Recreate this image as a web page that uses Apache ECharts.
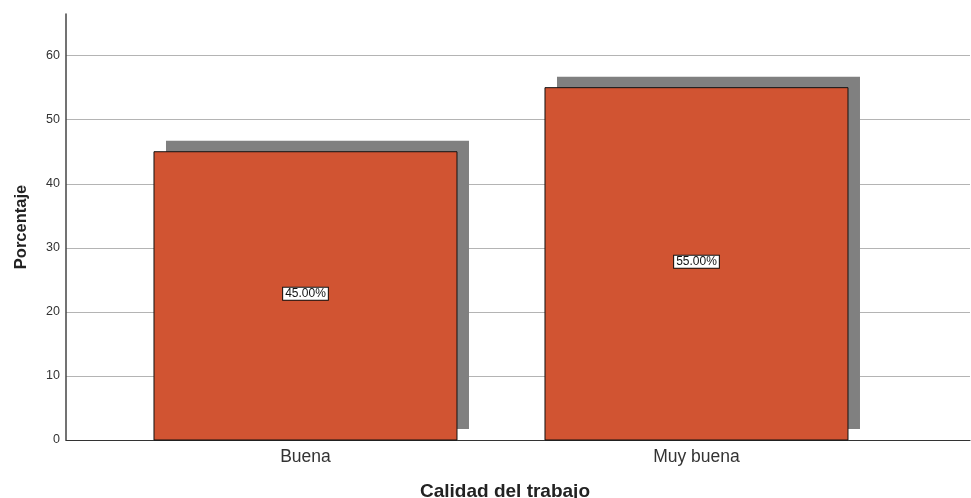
<!DOCTYPE html>
<html>
<head>
<meta charset="utf-8">
<title>Calidad del trabajo</title>
<script src="https://cdn.jsdelivr.net/npm/echarts@6/dist/echarts.min.js"></script>
<style>
  html, body { margin: 0; padding: 0; background: #ffffff; }
  #chart { width: 971px; height: 498px; }
</style>
</head>
<body>
<div id="chart"></div>
<script>
// Categories and their percentages
const categorias = ['Buena', 'Muy buena'];
const porcentajes = [45, 55];
// Y axis ticks
const yTicks = { min: 0, max: 66.5, interval: 10 };

const chart = echarts.init(document.getElementById('chart'), null, { renderer: 'canvas' });

// Each bar sits at position i + 1 on a numeric x axis
const barData = porcentajes.map((v, i) => [i + 1, v]);

const BAR_W = 303;       // bar width in pixels
const SHADOW_DX = 12;    // drop shadow offset to the right
const SHADOW_DY = -11;   // drop shadow offset upward

const option = {
  backgroundColor: '#ffffff',
  animation: false,
  grid: { left: 66, right: 1, top: 14, bottom: 58, containLabel: false, outerBoundsMode: 'none' },
  xAxis: {
    type: 'value',
    min: 0.3875,
    max: 2.6995,
    name: 'Calidad del trabajo',
    nameLocation: 'middle',
    nameGap: 42,
    nameTextStyle: {
      fontFamily: 'Liberation Sans, Arial, sans-serif',
      fontSize: 19,
      fontWeight: 'bold',
      color: '#222',
      padding: [0, 26, 0, 0]
    },
    axisLine: { show: true, onZero: false, lineStyle: { color: '#333', width: 1.2 } },
    axisTick: { show: false },
    splitLine: { show: false },
    axisLabel: {
      customValues: barData.map(d => d[0]),
      formatter: v => categorias[Math.round(v) - 1] || '',
      fontFamily: 'Liberation Sans, Arial, sans-serif',
      fontSize: 17.5,
      color: '#333',
      margin: 8
    }
  },
  yAxis: {
    type: 'value',
    min: yTicks.min,
    max: yTicks.max,
    interval: yTicks.interval,
    name: 'Porcentaje',
    nameLocation: 'middle',
    nameRotate: 90,
    nameGap: 36,
    nameTextStyle: { fontFamily: 'Liberation Sans, Arial, sans-serif', fontSize: 16.5, fontWeight: 'bold', color: '#222' },
    axisLine: { show: true, lineStyle: { color: '#444', width: 1.5 } },
    axisTick: { show: false },
    axisLabel: {
      showMaxLabel: false,
      fontFamily: 'Liberation Sans, Arial, sans-serif',
      fontSize: 12.5,
      color: '#333',
      margin: 6
    },
    splitLine: { show: true, showMinLine: false, showMaxLine: false, lineStyle: { color: '#b4b4b4', width: 1 } }
  },
  series: [{
    type: 'custom',
    data: barData,
    clip: false,
    renderItem: function (params, api) {
      const x = api.value(0);
      const v = api.value(1);
      const top = api.coord([x, v]);
      const base = api.coord([x, 0]);
      const left = top[0] - BAR_W / 2;
      const h = base[1] - top[1];
      return {
        type: 'group',
        children: [
          {
            type: 'rect',
            shape: { x: left + SHADOW_DX, y: top[1] + SHADOW_DY, width: BAR_W, height: h },
            style: { fill: '#808080' }
          },
          {
            type: 'rect',
            shape: { x: left, y: top[1], width: BAR_W, height: h },
            style: { fill: '#D15432', stroke: '#111', lineWidth: 1 }
          },
          {
            type: 'text',
            x: top[0],
            y: (top[1] + base[1]) / 2 - 2,
            style: {
              text: v.toFixed(2) + '%',
              fontFamily: 'Liberation Sans, Arial, sans-serif',
              fontSize: 12,
              fill: '#111',
              align: 'center',
              verticalAlign: 'middle',
              backgroundColor: '#ffffff',
              borderColor: '#111',
              borderWidth: 1,
              padding: [0, 2, 0, 2]
            }
          }
        ]
      };
    }
  }]
};

chart.setOption(option);
</script>
</body>
</html>
